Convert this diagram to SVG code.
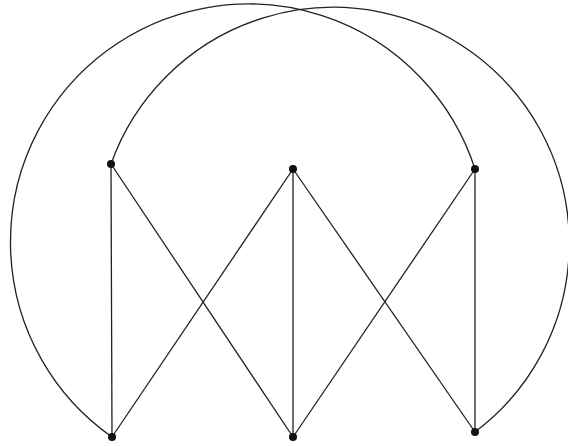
<svg xmlns="http://www.w3.org/2000/svg" width="568" height="446" viewBox="0 0 568 446">
<style>
.e{stroke:#222;stroke-width:1.3;fill:none}
.n{fill:#111}
</style>
<rect width="568" height="446" fill="#fff"/>
<g id="connectors">
<path class="e" d="M112,437 A238,238 0 1 1 475,169"/>
<path class="e" d="M111,164 A236,236 0 1 1 475,432"/>
<line class="e" x1="111" y1="164" x2="112" y2="437"/>
<line class="e" x1="111" y1="164" x2="293" y2="437"/>
<line class="e" x1="293" y1="169" x2="112" y2="437"/>
<line class="e" x1="293" y1="169" x2="293" y2="437"/>
<line class="e" x1="293" y1="169" x2="475" y2="432"/>
<line class="e" x1="475" y1="169" x2="293" y2="437"/>
<line class="e" x1="475" y1="169" x2="475" y2="432"/>
</g>
<g id="n1"><circle class="n" cx="111" cy="164" r="4"/></g>
<g id="n2"><circle class="n" cx="293" cy="169" r="4"/></g>
<g id="n3"><circle class="n" cx="475" cy="169" r="4"/></g>
<g id="n4"><circle class="n" cx="112" cy="437" r="4"/></g>
<g id="n5"><circle class="n" cx="293" cy="437" r="4"/></g>
<g id="n6"><circle class="n" cx="475" cy="432" r="4"/></g>
</svg>
